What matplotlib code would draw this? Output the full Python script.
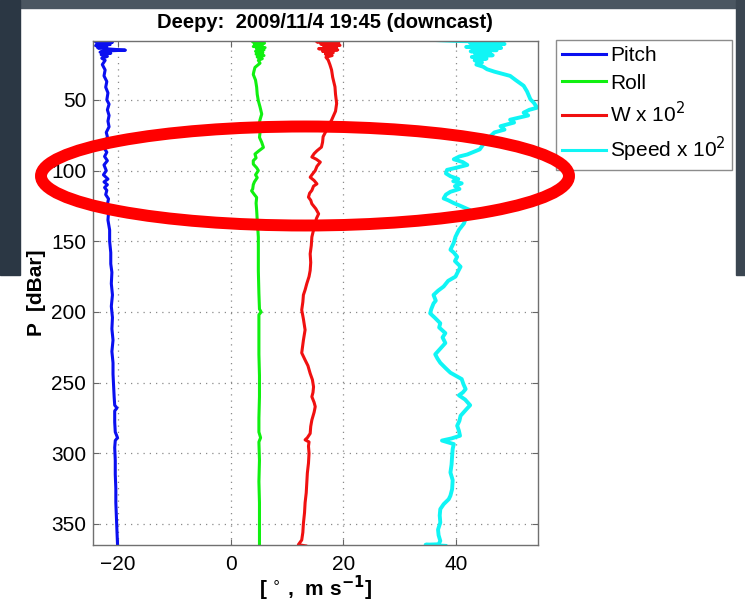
import matplotlib
matplotlib.use('Agg')
import matplotlib.pyplot as plt
from matplotlib.patches import Rectangle, Ellipse

plt.rcParams['font.family'] = ['Liberation Sans', 'DejaVu Sans']

# pitch profile (pressure dBar, degrees)
p_pitch = [7.5, 8.3, 9.2, 10.0, 10.8, 11.6, 12.4, 13.2, 14.0, 14.8, 15.4, 16.2, 17.0, 18.0, 19.2, 20.5,
           22, 25, 28.8, 33, 37, 41, 45, 50, 53, 57, 61, 65, 69, 73, 76, 80, 84, 87, 90, 93, 96, 100,
           103, 106, 108, 110, 112, 114, 117, 120, 124, 130, 135, 142, 150, 158, 166, 172, 180, 188,
           196, 204, 212, 220, 228, 236, 244, 252, 260, 266, 268, 270, 278, 285, 289, 291, 296, 305,
           315, 325, 335, 345, 355, 364.6]
pitch = [-20.2, -24.2, -21.0, -23.8, -21.4, -24.0, -22.0, -23.6, -21.5, -18.7, -22.4, -23.2, -21.3, -23.0,
         -21.9, -22.9, -22.3, -22.8, -22.3, -22.5, -22.0, -22.2, -21.8, -22.0, -21.6, -21.9, -21.6, -21.8,
         -21.6, -22.1, -21.9, -22.2, -22.5, -22.0, -22.4, -21.9, -22.5, -22.1, -22.6, -21.8, -22.5, -21.9,
         -22.4, -22.0, -22.2, -21.7, -21.9, -21.7, -21.8, -21.5, -21.5, -21.3, -21.3, -21.1, -21.2, -21.0,
         -21.2, -21.0, -21.1, -20.9, -21.1, -20.9, -20.9, -20.8, -20.7, -20.6, -20.2, -20.6, -20.6, -20.5,
         -20.1, -20.5, -20.6, -20.5, -20.5, -20.4, -20.4, -20.3, -20.2, -20.1]

# roll profile
p_roll = [7.6, 8.3, 9.0, 9.8, 10.6, 11.4, 12.2, 13.0, 13.8, 14.6, 15.6, 16.6, 17.6, 18.6, 19.6, 20.8,
          22.0, 24, 27, 30, 32, 36, 41, 46, 50.6, 55, 60, 64, 69.5, 73, 76.5, 80, 83.6, 86, 88.3, 91,
          93, 95.4, 98, 100, 103, 105, 108, 110, 113, 114.3, 117, 119, 123, 128, 135, 147, 160, 171,
          187, 198, 200, 202, 215, 230, 245, 260, 275, 285, 289, 292, 305, 320, 335, 350, 364.6]
roll = [3.3, 5.8, 3.9, 6.0, 4.2, 5.6, 4.0, 6.1, 4.6, 5.9, 4.4, 5.7, 4.5, 5.9, 4.7, 5.6,
        4.9, 5.2, 4.3, 4.1, 4.0, 4.4, 4.6, 4.7, 4.9, 5.2, 5.5, 5.2, 4.9, 5.2, 5.1, 5.5, 5.8, 5.0, 4.3, 4.5,
        4.0, 4.0, 4.6, 4.9, 4.4, 4.7, 4.2, 4.0, 3.9, 3.7, 4.2, 4.6, 4.5, 4.6, 4.7, 4.9, 4.9, 4.9,
        5.0, 5.1, 5.4, 5.0, 5.0, 5.0, 5.1, 5.1, 5.0, 5.0, 5.3, 5.0, 5.1, 5.0, 5.1, 5.1, 5.1]

# vertical velocity x 100
p_w = [7.6, 8.2, 9.0, 9.8, 10.6, 11.4, 12.2, 13.0, 13.8, 14.6, 15.6, 16.6, 17.6, 18.6, 19.8, 21.8,
       25, 28.8, 34, 40.7, 46, 52.5, 58, 64.3, 68, 71.4, 76, 80, 83.4, 86, 88, 90.4, 92, 94, 97, 100,
       102, 104.7, 107, 109.4, 111, 114, 116, 118.8, 121, 123.5, 127, 130.6, 134, 137.7, 142, 147,
       153, 158.9, 165, 170.7, 175, 180, 184.4, 188, 193, 198.6, 205, 212.7, 220, 229, 234, 238,
       243.5, 248, 253, 257, 260, 264, 267, 271, 276.5, 281, 286, 289, 290.5, 292, 295, 300, 307,
       314, 321, 328, 335, 342, 349.6, 356, 361.4, 364.7, 365.5]
w = [12.0, 16.2, 15.3, 19.2, 16.0, 19.4, 16.5, 18.8, 15.6, 19.0, 16.3, 18.2, 16.8, 18.0, 16.9, 17.3,
     17.6, 17.9, 18.1, 18.5, 18.6, 18.8, 18.6, 17.9, 17.4, 17.0, 16.4, 16.3, 16.1, 15.3, 14.8, 14.4,
     15.2, 15.9, 15.3, 15.0, 14.6, 14.1, 14.8, 15.3, 14.7, 14.4, 14.0, 13.8, 14.2, 14.4, 15.1, 15.6,
     15.2, 15.0, 14.7, 14.4, 14.3, 14.1, 14.2, 14.1, 13.9, 13.5, 13.2, 12.9, 12.8, 12.6, 12.9, 13.2,
     12.9, 12.6, 13.2, 13.7, 14.1, 14.5, 14.7, 14.6, 14.4, 14.8, 15.0, 14.8, 14.4, 14.2, 14.1, 13.6,
     13.2, 13.9, 13.8, 13.9, 13.8, 13.6, 13.5, 13.4, 13.2, 13.1, 12.9, 12.8, 12.6, 12.0, 13.3]

# glider speed x 100
p_speed = [7.0, 8.3, 9.0, 9.7, 10.4, 11.1, 11.8, 12.5, 13.2, 14.0, 14.8, 15.6, 16.4, 17.4, 18.4, 19.6,
           20.8, 22.0, 23.5, 25.0, 26.5, 28.3, 30, 33, 36, 40, 44, 49.6, 52, 55.5, 57, 59, 61, 64, 66,
           68.6, 71, 73, 75.7, 78, 80, 82.8, 85, 87, 88.6, 90, 92, 94, 96, 98, 99.5, 102, 104, 106,
           107.5, 109, 111, 113, 115, 117, 119.7, 121, 123, 125, 128, 131, 134, 137.4, 142, 146.8, 151,
           156, 158, 161, 164, 168, 171, 175, 178, 182, 185, 188, 192, 194, 198, 201, 204, 208, 211,
           215, 218, 222, 226, 230, 233, 236, 240, 243, 247.5, 251, 254.6, 257, 259, 262, 266, 269,
           273.5, 277, 280.5, 284, 287.6, 289.5, 291, 292.3, 293.5, 297, 302, 308, 313.6, 319, 325.4,
           330, 332.5, 336, 339.5, 344, 349, 354, 358, 362, 364.4, 364.7, 365.5]
speed = [32.5, 40.2, 48.3, 42.5, 48.6, 43.0, 47.8, 41.8, 48.0, 43.2, 47.2, 42.6, 46.0, 43.4, 46.5, 42.8,
         45.4, 43.3, 44.6, 43.6, 44.8, 45.5, 46.8, 49.6, 50.6, 52.0, 52.6, 53.2, 53.8, 54.4, 53.0, 52.0,
         52.8, 49.6, 50.3, 47.9, 48.6, 46.8, 46.1, 46.7, 45.1, 44.6, 44.2, 43.0, 42.0, 40.6, 39.6, 41.2,
         42.0, 40.0, 38.4, 38.2, 39.0, 40.4, 39.5, 41.0, 39.8, 40.6, 39.0, 38.2, 37.8, 38.6, 39.6, 40.8,
         42.5, 42.0, 41.7, 41.4, 40.5, 39.9, 39.6, 39.0, 39.6, 40.2, 39.8, 40.8, 40.4, 39.9, 38.6, 37.8,
         36.8, 36.0, 36.4, 36.0, 35.6, 35.4, 36.2, 37.2, 37.0, 38.1, 37.6, 38.1, 37.2, 36.3, 36.7, 37.2,
         38.2, 39.0, 41.0, 41.3, 41.7, 41.2, 40.5, 41.6, 42.5, 41.8, 40.8, 40.6, 40.2, 40.5, 40.7, 39.2,
         37.5, 38.6, 39.6, 39.4, 39.3, 39.2, 39.0, 39.4, 39.3, 39.0, 38.7, 37.8, 37.2, 37.1, 37.2, 36.8,
         36.9, 37.2, 36.9, 34.6, 38.1]

x_ticks = [-20, 0, 20, 40]
y_ticks = [50, 100, 150, 200, 250, 300, 350]

W, H = 745, 608
fig = plt.figure(figsize=(W / 100, H / 100), dpi=100)
fig.patch.set_facecolor('white')

# dark slide background peeking around the white plot area
fig.add_artist(Rectangle((0, 1 - 8 / H), 1, 8 / H, transform=fig.transFigure, color='#4b5661', zorder=-5))
fig.add_artist(Rectangle((0, 1 - 275 / H), 20 / W, 275 / H, transform=fig.transFigure, color='#2b3744', zorder=-5))
fig.add_artist(Rectangle((736 / W, 1 - 275 / H), 9 / W, 275 / H, transform=fig.transFigure, color='#3b4651', zorder=-5))

ax = fig.add_axes([93.3 / W, 63 / H, 445 / W, 504.3 / H])

ax.plot(pitch, p_pitch, color='#0a0ff0', lw=2.2, label='Pitch')
ax.plot(roll, p_roll, color='#10f010', lw=2.2, label='Roll')
ax.plot(w, p_w, color='#f01010', lw=2.2, label='W x 10$^2$')
ax.plot(speed, p_speed, color='#10f5f5', lw=2.8, label='Speed x 10$^2$')

ax.set_xlim(-24.4, 54.6)
ax.set_ylim(364.9, 8.1)
ax.set_xticks(x_ticks)
ax.set_yticks(y_ticks)
ax.set_xticklabels(['\u221220', '0', '20', '40'])
ax.grid(True, linestyle=(0, (1, 4)), color='#8a8a8a', linewidth=0.9)
ax.tick_params(direction='in', top=True, right=True, length=4, width=0.8, color='#666666',
               labelsize=15, pad=5)
ax.tick_params(axis='x', pad=7)
for s in ax.spines.values():
    s.set_color('#707070')
    s.set_linewidth(1.0)

ax.set_ylabel('P  [dBar]', fontsize=15, fontweight='bold', labelpad=4)
ax.set_xlabel(r'[ $^{\circ}$ ,  m s$^{\mathbf{-1}}$]', fontsize=15, fontweight='bold', labelpad=0)
fig.text(325 / W, 1 - 22 / H, 'Deepy:  2009/11/4 19:45 (downcast)', ha='center', va='center',
         fontsize=14.5, fontweight='bold')

leg = ax.legend(loc='upper left', bbox_to_anchor=(556 / W, 1 - 40 / H), bbox_transform=fig.transFigure,
                fontsize=15, frameon=True, fancybox=False, borderaxespad=0, borderpad=0.3,
                handlelength=2.1, handletextpad=0.2, labelspacing=0.4)
leg.get_frame().set_edgecolor('#707070')
leg.get_frame().set_linewidth(1.0)
for ln in leg.get_lines():
    ln.set_linewidth(2.2)

# red highlight ellipse drawn over the slide
fig.add_artist(Ellipse((305 / W, 1 - 176 / H), 528 / W, 99 / H, transform=fig.transFigure,
                       fill=False, edgecolor='#ff0000', linewidth=8.6, zorder=10))

fig.savefig('out.png', dpi=100)
